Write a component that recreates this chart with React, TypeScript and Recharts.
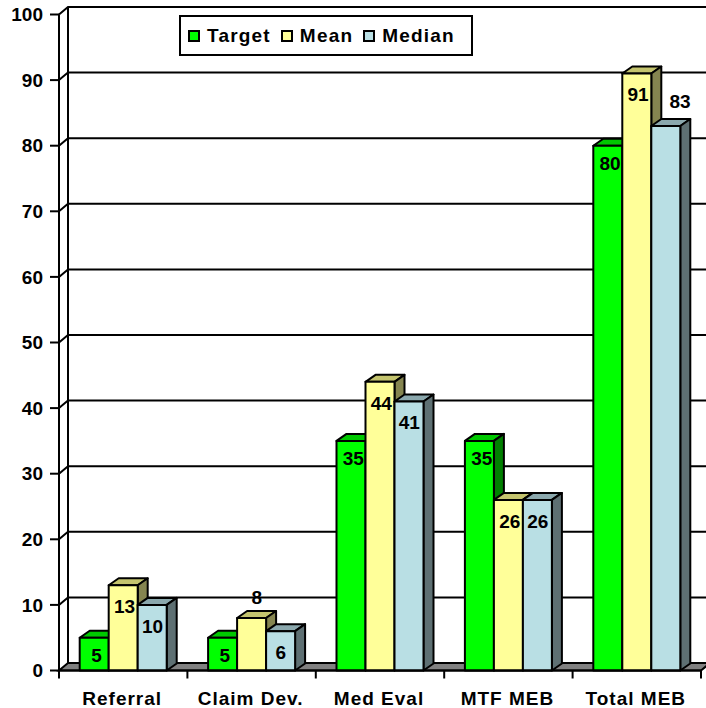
import React from 'react';
import { BarChart, Bar, XAxis, YAxis, CartesianGrid, LabelList, Legend } from 'recharts';

const categories = ['Referral', 'Claim Dev.', 'Med Eval', 'MTF MEB', 'Total MEB'];
const target = [5, 5, 35, 35, 80];
const mean = [13, 8, 44, 26, 91];
const median = [10, 6, 41, 26, 83];
const yTicks = [0, 10, 20, 30, 40, 50, 60, 70, 80, 90, 100];

const rows = categories.map((name, i) => ({ name, Target: target[i], Mean: mean[i], Median: median[i] }));

const FONT = '"Liberation Sans", Arial, sans-serif';
const W = 706;
const H = 708;
const M = { top: 14.5, right: 5, bottom: 37.5, left: 59 };
const DX = 9;
const DY = 7.5;
const BAR_DX = 10;
const BAR_DY = 7;
const BAR_SHIFT = 0.3;
const STROKE = '#000';

const SERIES = [
  { key: 'Target', front: '#00ff00', top: '#00c800', side: '#008000', inset: 17, nudge: 2 },
  { key: 'Mean', front: '#ffff99', top: '#c4c46e', side: '#858550', inset: 21, nudge: 1 },
  { key: 'Median', front: '#b9dfe4', top: '#8ba8ad', side: '#5e7073', inset: 21, nudge: 0 },
];

const Bar3D = (props: any) => {
  const { y, width, height, front, top, side } = props;
  const x = props.x - BAR_SHIFT;
  return (
    <g stroke={STROKE} strokeWidth={2} strokeLinejoin="round">
      <polygon points={`${x},${y} ${x + BAR_DX},${y - BAR_DY} ${x + width + BAR_DX},${y - BAR_DY} ${x + width},${y}`} fill={top} />
      <polygon points={`${x + width},${y} ${x + width + BAR_DX},${y - BAR_DY} ${x + width + BAR_DX},${y + height - BAR_DY} ${x + width},${y + height}`} fill={side} />
      <rect x={x} y={y} width={width} height={height} fill={front} />
    </g>
  );
};

const isAbove = (seriesKey: string, index: number) =>
  (seriesKey === 'Mean' && categories[index] === 'Claim Dev.') ||
  (seriesKey === 'Median' && categories[index] === 'Total MEB');

const makeLabel = (s: (typeof SERIES)[number]) => (props: any) => {
  const { x, y, width, value, index } = props;
  const above = isAbove(s.key, index);
  const cx = x + width / 2 + (above ? (value > 50 ? 14 : 5) : s.nudge);
  const cy = above ? y - (value > 50 ? 25 : 21) : y + s.inset;
  return (
    <text x={cx} y={cy} dy="0.36em" textAnchor="middle" fontFamily={FONT} fontSize={19} fontWeight={700} fill="#000">
      {value}
    </text>
  );
};

const gridLine = (p: any) => {
  const { x1, x2, y1 } = p;
  const bottom = p.y + p.height;
  const isFloor = Math.abs(y1 - bottom) < 1;
  const isTop = Math.abs(y1 - p.y) < 1;
  return (
    <g key={p.key} stroke={STROKE} strokeWidth={2} fill="none">
      {isFloor ? (
        <polygon points={`${x1},${y1} ${x1 + DX},${y1 - DY} ${x2 + DX},${y1 - DY} ${x2},${y1}`} fill="#808080" />
      ) : (
        <polyline points={`${x1},${y1} ${x1 + DX},${y1 - DY} ${x2 + DX},${y1 - DY}`} />
      )}
      {isTop ? <line x1={x1 + DX} y1={y1 - DY} x2={x1 + DX} y2={bottom - DY} /> : null}
    </g>
  );
};

const plotW = W - M.left - M.right;
const band = plotW / categories.length;

const XTick = (props: any) => {
  const { x, payload, index } = props;
  const tickTop = H - M.bottom;
  return (
    <g>
      <line x1={x - band / 2} y1={tickTop} x2={x - band / 2} y2={tickTop + 8} stroke={STROKE} strokeWidth={2} />
      {index === categories.length - 1 ? (
        <line x1={x + band / 2} y1={tickTop} x2={x + band / 2} y2={tickTop + 8} stroke={STROKE} strokeWidth={2} />
      ) : null}
      <text x={x - 1} y={tickTop + 34.5} textAnchor="middle" fontFamily={FONT} fontSize={19} fontWeight={700} letterSpacing={1} fill="#000">
        {payload.value}
      </text>
    </g>
  );
};

const LegendBox = () => (
  <div
    style={{
      boxSizing: 'border-box',
      width: 294,
      height: 41,
      background: '#fff',
      border: '2px solid #000',
      display: 'flex',
      alignItems: 'center',
      paddingLeft: 7,
      fontFamily: FONT,
      fontSize: 19,
      fontWeight: 700,
      letterSpacing: 1.2,
      color: '#000',
    }}
  >
    {SERIES.map((s) => (
      <span key={s.key} style={{ display: 'flex', alignItems: 'center', marginRight: 10 }}>
        <span style={{ boxSizing: 'border-box', width: 12, height: 12, background: s.front, border: '2px solid #000', marginRight: 7 }} />
        {s.key}
      </span>
    ))}
  </div>
);

export default function App() {
  return (
    <div style={{ position: 'absolute', left: 0, top: 0, width: W, height: H, background: '#fff' }}>
      <BarChart width={W} height={H} data={rows} margin={{ top: M.top, right: M.right, bottom: 0, left: 0 }} barSize={29} barGap={0}>
        <CartesianGrid vertical={false} horizontal={gridLine as any} />
        <XAxis
          dataKey="name"
          tick={<XTick />}
          tickLine={false}
          axisLine={{ stroke: STROKE, strokeWidth: 2 }}
          interval={0}
          height={M.bottom}
        />
        <YAxis
          type="number"
          domain={[0, 100]}
          ticks={yTicks}
          interval={0}
          width={M.left}
          tickSize={9}
          tickMargin={7}
          tickLine={{ stroke: STROKE, strokeWidth: 2 }}
          axisLine={{ stroke: STROKE, strokeWidth: 2 }}
          tick={{ fontFamily: FONT, fontSize: 19, fontWeight: 700, fill: '#000' }}
        />
        <Legend
          layout="vertical"
          align="center"
          verticalAlign="middle"
          content={<LegendBox />}
          wrapperStyle={{ left: 179, top: 15, width: 294, height: 41, margin: 0 }}
        />
        {SERIES.map((s) => (
          <Bar
            key={s.key}
            dataKey={s.key}
            isAnimationActive={false}
            shape={(p: any) => <Bar3D {...p} front={s.front} top={s.top} side={s.side} />}
          >
            <LabelList dataKey={s.key} content={makeLabel(s) as any} />
          </Bar>
        ))}
      </BarChart>
    </div>
  );
}
